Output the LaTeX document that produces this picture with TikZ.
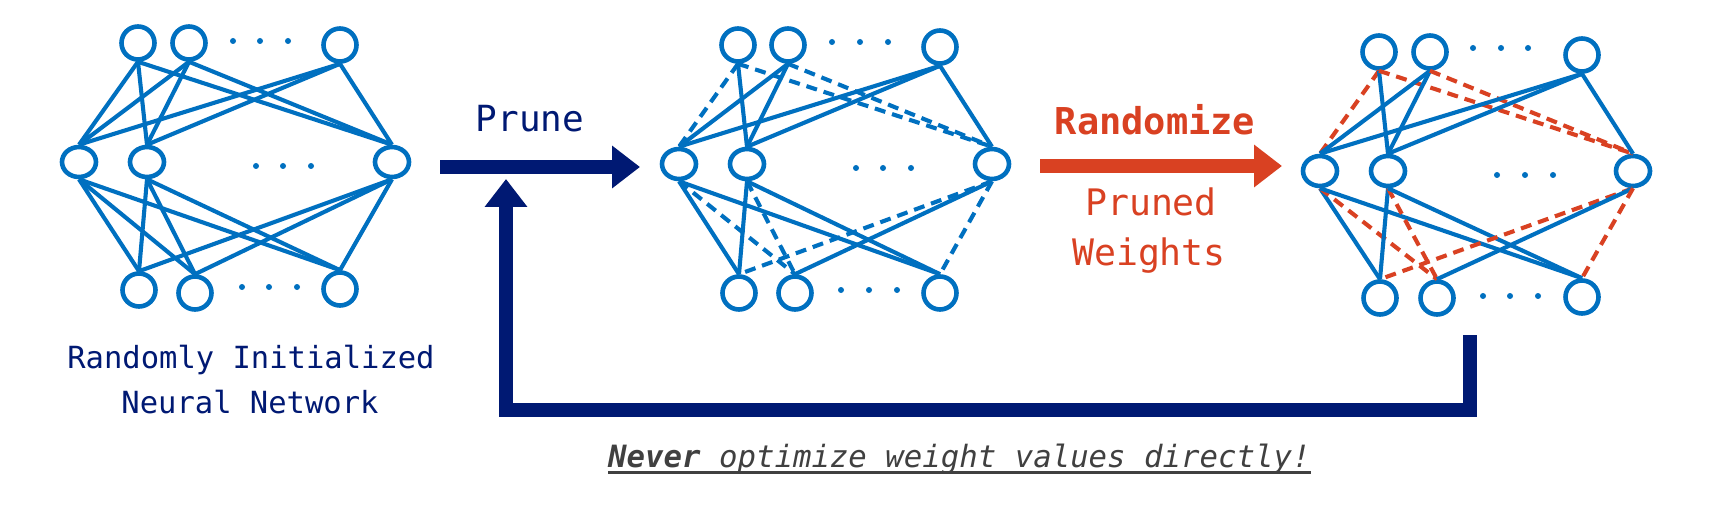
\documentclass[tikz,border=0pt]{standalone}
\usepackage{fontspec}
\newfontfamily\mono{DejaVu Sans Mono}[BoldFont={DejaVu Sans Mono Bold},ItalicFont={DejaVu Sans Mono Oblique},BoldItalicFont={DejaVu Sans Mono Bold Oblique}]
\usetikzlibrary{arrows.meta,shapes.geometric}
\definecolor{netblue}{RGB}{0,112,192}
\definecolor{navy}{RGB}{0,25,115}
\definecolor{myred}{RGB}{217,65,34}
\definecolor{txtgray}{RGB}{64,64,64}
\tikzset{
  neuron/.style={circle, draw=netblue, line width=4.6pt, fill=white, minimum size=33pt, inner sep=0pt},
  mneuron/.style={ellipse, draw=netblue, line width=4.6pt, fill=white, minimum width=34pt, minimum height=30pt, inner sep=0pt},
  ndot/.style={circle, fill=netblue, inner sep=0pt, minimum size=6pt},
  edge/.style={draw=netblue, line width=4.1pt},
  bluecut/.style={edge, dash pattern=on 11pt off 7pt},
  redcut/.style={edge, draw=myred, dash pattern=on 11pt off 7pt},
  bigarrow/.style={line width=14pt, line join=miter, -{Triangle[length=28pt,width=41pt]}},
  lbl/.style={anchor=base, inner sep=0pt}
}
\newcommand\fullnet[1]{%
  \foreach \u in {1,2,3}{\foreach \v in {1,2,3}{
    \draw[edge] (#1t\u.south) -- (#1m\v.north);
    \draw[edge] (#1m\u.south) -- (#1b\v.north);}}}
\newcommand\cutnet[2]{%
  \draw[#2] (#1t1.south) -- (#1m1.north);
  \draw[edge] (#1t1.south) -- (#1m2.north);
  \draw[#2] (#1t1.south) -- (#1m3.north);
  \draw[edge] (#1t2.south) -- (#1m1.north);
  \draw[edge] (#1t2.south) -- (#1m2.north);
  \draw[#2] (#1t2.south) -- (#1m3.north);
  \draw[edge] (#1t3.south) -- (#1m1.north);
  \draw[edge] (#1t3.south) -- (#1m2.north);
  \draw[edge] (#1t3.south) -- (#1m3.north);
  \draw[edge] (#1m1.south) -- (#1b1.north);
  \draw[#2] (#1m1.south) -- (#1b2.north);
  \draw[edge] (#1m1.south) -- (#1b3.north);
  \draw[edge] (#1m2.south) -- (#1b1.north);
  \draw[#2] (#1m2.south) -- (#1b2.north);
  \draw[edge] (#1m2.south) -- (#1b3.north);
  \draw[#2] (#1m3.south) -- (#1b1.north);
  \draw[edge] (#1m3.south) -- (#1b2.north);
  \draw[#2] (#1m3.south) -- (#1b3.north);}
\begin{document}
\begin{tikzpicture}[x=1pt,y=-1pt]
\useasboundingbox (0,0) rectangle (1718,505);
\fill[white] (0,0) rectangle (1718,505);

% ---- network 1
\node[neuron] (at1) at (138,43) {};
\node[neuron] (at2) at (189,43) {};
\node[neuron] (at3) at (340,45) {};
\node[mneuron] (am1) at (79,162) {};
\node[mneuron] (am2) at (147,162) {};
\node[mneuron] (am3) at (392,162) {};
\node[neuron] (ab1) at (139,290) {};
\node[neuron] (ab2) at (195,293) {};
\node[neuron] (ab3) at (340,289) {};
\foreach \x in {233,260,288} \node[ndot] at (\x,41) {};
\foreach \x in {256,283,311} \node[ndot] at (\x,166) {};
\foreach \x in {242,269,297} \node[ndot] at (\x,287) {};
\fullnet{a}

% ---- network 2
\node[neuron] (bt1) at (738,45) {};
\node[neuron] (bt2) at (788,45) {};
\node[neuron] (bt3) at (940,47) {};
\node[mneuron] (bm1) at (679,164) {};
\node[mneuron] (bm2) at (747,164) {};
\node[mneuron] (bm3) at (992,164) {};
\node[neuron] (bb1) at (739,293) {};
\node[neuron] (bb2) at (795,293) {};
\node[neuron] (bb3) at (940,293) {};
\foreach \x in {832,860,888} \node[ndot] at (\x,42) {};
\foreach \x in {856,883,911} \node[ndot] at (\x,168) {};
\foreach \x in {841,869,897} \node[ndot] at (\x,290) {};
\cutnet{b}{bluecut}

% ---- network 3
\node[neuron] (ct1) at (1379,52) {};
\node[neuron] (ct2) at (1430,52) {};
\node[neuron] (ct3) at (1582,55) {};
\node[mneuron] (cm1) at (1320,171) {};
\node[mneuron] (cm2) at (1388,171) {};
\node[mneuron] (cm3) at (1633,171) {};
\node[neuron] (cb1) at (1380,298) {};
\node[neuron] (cb2) at (1437,298) {};
\node[neuron] (cb3) at (1582,297) {};
\foreach \x in {1473,1501,1528} \node[ndot] at (\x,48) {};
\foreach \x in {1497,1525,1553} \node[ndot] at (\x,175) {};
\foreach \x in {1483,1510,1538} \node[ndot] at (\x,296) {};
\cutnet{c}{redcut}

% ---- big arrows
\coordinate (pa) at (440,167);
\coordinate (pb) at (640,167);
\draw[bigarrow, navy] (pa) -- (pb);
\coordinate (qa) at (1040,166);
\coordinate (qb) at (1282,166);
\draw[bigarrow, myred] (qa) -- (qb);
\coordinate (ra) at (1470,335);
\coordinate (rb) at (1470,410);
\coordinate (rc) at (506,410);
\coordinate (rd) at (506,179);
\draw[bigarrow, navy] (ra) -- (rb) -- (rc) -- (rd);

% ---- labels
\node[lbl, navy, font=\mono\fontsize{30.5}{36}\selectfont] (l1) at (251,368) {Randomly Initialized};
\node[lbl, navy, font=\mono\fontsize{30.5}{36}\selectfont] (l2) at (250,413) {Neural Network};
\node[lbl, navy, font=\mono\fontsize{36}{40}\selectfont] (prune) at (530,132) {Prune};
\node[lbl, myred, font=\mono\bfseries\fontsize{37}{40}\selectfont] (rand) at (1155,135) {Randomize};
\node[lbl, myred, font=\mono\fontsize{36.5}{40}\selectfont] (prw) at (1151,215) {Pruned};
\node[lbl, myred, font=\mono\fontsize{36.5}{40}\selectfont] (wts) at (1149,265) {Weights};
\node[anchor=base west, inner sep=0pt, txtgray, font=\mono\itshape\fontsize{30.7}{36}\selectfont] (nv) at (608,467) {\textbf{Never} optimize weight values directly!};
\draw[txtgray, line width=2.5pt] ([yshift=-5.5pt]nv.base west) -- ([yshift=-5.5pt]nv.base east);
\end{tikzpicture}
\end{document}
